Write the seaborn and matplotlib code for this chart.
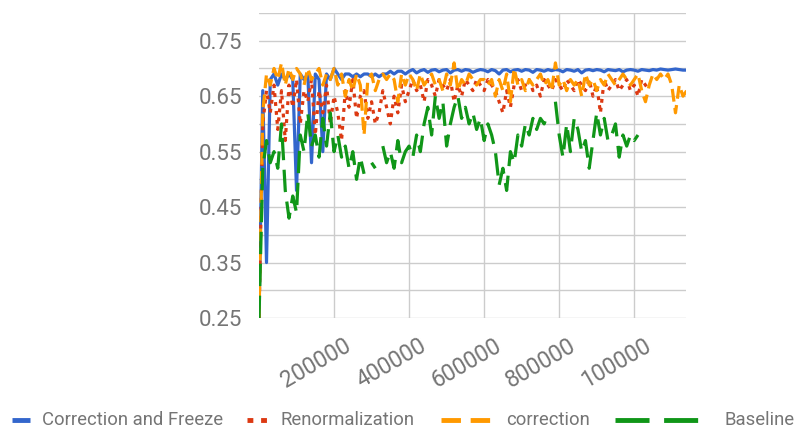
import numpy as np
import pandas as pd
import matplotlib
matplotlib.use("Agg")
import matplotlib.pyplot as plt
import seaborn as sns
from matplotlib.lines import Line2D
from matplotlib.transforms import ScaledTranslation

# training steps (one sample every 10000 steps)
steps = list(range(0, 1150000, 10000))

nan = np.nan
freeze = [
    0.25, 0.66, 0.35, 0.68, 0.69, 0.67, 0.69, 0.68, 0.69, 0.68,
    0.48, 0.69, 0.68, 0.69, 0.53, 0.69, 0.68, 0.55, 0.69, 0.68,
    0.70, 0.69, 0.68, 0.69, 0.69, 0.685, 0.69, 0.685, 0.69, 0.69,
    0.685, 0.69, 0.685, 0.69, 0.69, 0.695, 0.69, 0.695, 0.695, 0.69,
    0.695, 0.698, 0.692, 0.696, 0.698, 0.693, 0.697, 0.698, 0.694, 0.697,
    0.698, 0.692, 0.697, 0.698, 0.695, 0.698, 0.697, 0.693, 0.696, 0.698,
    0.697, 0.694, 0.698, 0.696, 0.690, 0.697, 0.698, 0.694, 0.697, 0.698,
    0.695, 0.698, 0.697, 0.693, 0.698, 0.697, 0.695, 0.698, 0.696, 0.698,
    0.697, 0.694, 0.698, 0.697, 0.695, 0.698, 0.692, 0.697, 0.698, 0.696,
    0.698, 0.697, 0.694, 0.698, 0.697, 0.696, 0.698, 0.694, 0.697, 0.698,
    0.697, 0.695, 0.698, 0.697, 0.696, 0.698, 0.697, 0.699, 0.698, 0.697,
    0.698, 0.699, 0.698, 0.697, 0.697,
]
renorm = [
    0.25, 0.60, 0.66, 0.62, 0.67, 0.59, 0.66, 0.57, 0.67, 0.63,
    0.68, 0.60, 0.66, 0.64, 0.68, 0.58, 0.66, 0.62, 0.67, 0.60,
    0.65, 0.62, 0.57, 0.66, 0.63, 0.68, 0.61, 0.65, 0.66, 0.61,
    0.64, 0.60, 0.62, 0.66, 0.63, 0.60, 0.65, 0.62, 0.67, 0.64,
    0.66, 0.68, 0.66, 0.67, 0.64, 0.68, 0.67, 0.65, 0.68, 0.67,
    0.66, 0.68, 0.64, 0.67, 0.65, 0.68, 0.67, 0.66, 0.68, 0.67,
    0.66, 0.68, 0.67, 0.66, 0.64, 0.62, 0.66, 0.63, 0.67, 0.68,
    0.66, 0.67, 0.68, 0.66, 0.67, 0.65, 0.68, 0.67, 0.66, 0.68,
    0.67, 0.66, 0.68, 0.67, 0.66, 0.68, 0.67, 0.66, 0.68, 0.65,
    0.67, 0.62, 0.68, 0.66, 0.67, 0.68, 0.66, 0.67, 0.68, 0.66,
    0.67, 0.65, 0.68, 0.67, 0.66, nan, nan, nan, nan, nan,
    nan, nan, nan, nan, nan,
]
correction = [
    0.25, 0.62, 0.69, 0.67, 0.70, 0.68, 0.71, 0.67, 0.70, 0.68,
    0.70, 0.69, 0.67, 0.70, 0.68, 0.69, 0.70, 0.67, 0.69, 0.68,
    0.70, 0.67, 0.69, 0.65, 0.68, 0.66, 0.69, 0.67, 0.58, 0.68,
    0.69, 0.66, 0.68, 0.69, 0.68, 0.69, 0.68, 0.64, 0.69, 0.67,
    0.69, 0.68, 0.66, 0.69, 0.67, 0.68, 0.69, 0.67, 0.68, 0.66,
    0.69, 0.67, 0.71, 0.66, 0.68, 0.67, 0.69, 0.68, 0.67, 0.68,
    0.68, 0.67, 0.68, 0.65, 0.68, 0.66, 0.69, 0.64, 0.70, 0.67,
    0.68, 0.66, 0.68, 0.67, 0.68, 0.69, 0.67, 0.68, 0.66, 0.71,
    0.67, 0.68, 0.66, 0.68, 0.67, 0.68, 0.65, 0.69, 0.67, 0.68,
    0.66, 0.68, 0.67, 0.69, 0.68, 0.67, 0.68, 0.69, 0.68, 0.67,
    0.68, 0.69, 0.66, 0.64, 0.67, 0.69, 0.68, 0.69, 0.68, 0.69,
    0.67, 0.62, 0.67, 0.65, 0.66,
]
baseline = [
    0.25, 0.52, 0.57, 0.53, 0.55, 0.52, 0.60, 0.48, 0.43, 0.47,
    0.44, 0.58, 0.55, 0.62, 0.56, 0.58, 0.54, 0.61, 0.56, 0.62,
    0.55, 0.58, 0.54, 0.56, 0.52, 0.55, 0.50, 0.54, 0.51, nan,
    0.53, 0.52, nan, 0.56, 0.53, 0.55, 0.52, 0.57, 0.53, 0.55,
    0.56, 0.54, 0.58, 0.55, 0.60, 0.63, 0.58, 0.65, 0.61, 0.64,
    0.56, 0.60, 0.63, 0.65, 0.61, 0.63, 0.60, 0.62, 0.59, 0.61,
    0.57, 0.60, 0.58, 0.55, 0.49, 0.52, 0.48, 0.55, 0.53, 0.58,
    0.56, 0.60, 0.58, 0.61, 0.59, 0.61, 0.60, 0.62, nan, 0.64,
    0.58, 0.54, 0.60, 0.55, 0.61, 0.59, 0.55, 0.57, 0.52, 0.57,
    0.62, 0.58, 0.61, 0.57, 0.58, 0.60, 0.54, 0.58, 0.56, 0.58,
    0.57, 0.58, nan, nan, nan, nan, nan, nan, nan, nan,
    nan, nan, nan, nan, nan,
]

series_names = ["Correction and Freeze", "Renormalization", "correction", "Baseline"]
series_values = [freeze, renorm, correction, baseline]
colors = ["#3366cc", "#dc3912", "#ff9900", "#109618"]
dash_styles = ["", (1.2, 1.6), (4, 2), (7, 3)]

x_ticks = [200000, 400000, 600000, 800000, 1000000]
x_tick_labels = ["200000", "400000", "600000", "800000", "100000"]
y_ticks = [0.25, 0.35, 0.45, 0.55, 0.65, 0.75]

# long table, with a segment id so gaps (missing points) stay broken
frames = []
for name, vals in zip(series_names, series_values):
    d = pd.DataFrame({"step": steps, "value": vals, "series": name})
    d["segment"] = d["value"].isna().cumsum()
    frames.append(d.dropna())
df = pd.concat(frames, ignore_index=True)

sns.set_theme(style="white")
plt.rcParams["font.family"] = ["Roboto", "DejaVu Sans"]
grey = "#757575"

fig = plt.figure(figsize=(7.95, 4.34), dpi=100)
ax = fig.add_axes([259 / 795, 1 - 318 / 434, 427 / 795, 305 / 434])

sns.lineplot(
    data=df, x="step", y="value", hue="series", style="series",
    units="segment", estimator=None, sort=False,
    hue_order=series_names, style_order=series_names,
    palette=dict(zip(series_names, colors)),
    dashes=dict(zip(series_names, dash_styles)),
    linewidth=2.3, legend=False, ax=ax,
)

ax.set_xlim(0, 1138000)
ax.set_ylim(0.25, 0.80)
ax.set_xticks(x_ticks)
ax.set_xticklabels(x_tick_labels)
ax.set_yticks(y_ticks)
ax.set_yticks([0.30, 0.40, 0.50, 0.60, 0.70, 0.80], minor=True)
ax.grid(True, which="both", color="#cccccc", linewidth=1)
ax.set_axisbelow(True)
for s in ax.spines.values():
    s.set_visible(False)
ax.set_xlabel("")
ax.set_ylabel("")
ax.tick_params(axis="both", which="both", length=0)
ax.tick_params(axis="y", labelsize=16, labelcolor=grey, pad=12)
ax.tick_params(axis="x", labelsize=16.5, labelcolor=grey, pad=19)
offset = ScaledTranslation(15 / 100, 0, fig.dpi_scale_trans)
for lab in ax.get_xticklabels():
    lab.set_rotation(30)
    lab.set_ha("right")
    lab.set_va("center")
    lab.set_rotation_mode("anchor")
    lab.set_transform(lab.get_transform() + offset)

# legend row at the bottom, drawn like the original chart's legend
W, H = 795, 434
ly = 1 - 420 / H
handles = [(12, 30), (247, 269), (441, 494), (615, 700)]
text_x = [42, 281, 506, 724]
for (x0, x1), tx, name, c, ds in zip(handles, text_x, series_names, colors, dash_styles):
    ln = Line2D([x0 / W, x1 / W], [ly, ly], transform=fig.transFigure,
                color=c, linewidth=3.5, solid_capstyle="butt", dash_capstyle="butt")
    if ds:
        ln.set_dashes(ds)
    fig.add_artist(ln)
    fig.text(tx / W, ly, name, color=grey, fontsize=13.3, va="center", ha="left")

fig.savefig("out.png", dpi=100)
